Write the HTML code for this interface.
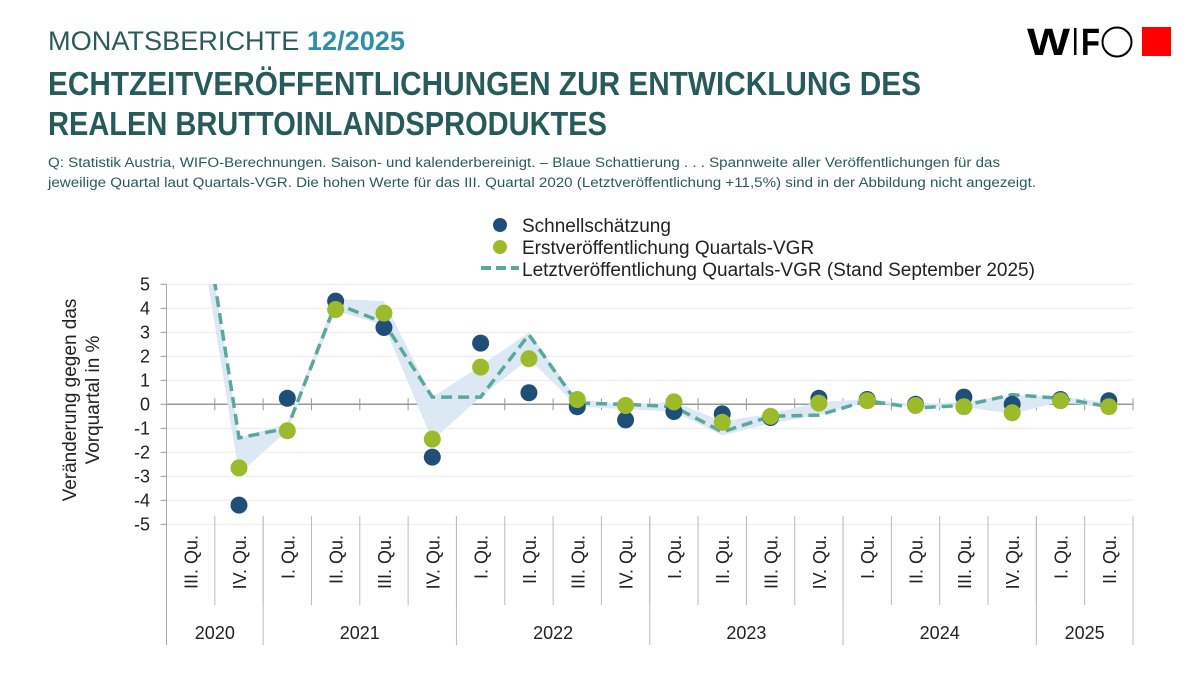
<!DOCTYPE html>
<html><head><meta charset="utf-8"><style>
body{margin:0;background:#fff;}
svg{display:block;font-family:"Liberation Sans",sans-serif;}
</style></head><body>
<svg id="chart" width="1200" height="675" viewBox="0 0 1200 675">
<text x="48" y="50" font-size="27" fill="#2a5a5a" textLength="357" lengthAdjust="spacingAndGlyphs">MONATSBERICHTE <tspan fill="#2e8fa8" font-weight="bold">12/2025</tspan></text>
<text x="48" y="95" font-size="33" font-weight="bold" fill="#275b5b" textLength="873" lengthAdjust="spacingAndGlyphs">ECHTZEITVERÖFFENTLICHUNGEN ZUR ENTWICKLUNG DES</text>
<text x="48" y="135" font-size="33" font-weight="bold" fill="#275b5b" textLength="559" lengthAdjust="spacingAndGlyphs">REALEN BRUTTOINLANDSPRODUKTES</text>
<text x="48" y="167" font-size="13.5" fill="#2a5a5a" textLength="952" lengthAdjust="spacingAndGlyphs">Q: Statistik Austria, WIFO-Berechnungen. Saison- und kalenderbereinigt. – Blaue Schattierung . . . Spannweite aller Veröffentlichungen für das</text>
<text x="48" y="187" font-size="13.5" fill="#2a5a5a" textLength="988" lengthAdjust="spacingAndGlyphs">jeweilige Quartal laut Quartals-VGR. Die hohen Werte für das III. Quartal 2020 (Letztveröffentlichung +11,5%) sind in der Abbildung nicht angezeigt.</text>
<g>
<text x="1027" y="55" font-size="38" font-weight="bold" fill="#000" textLength="43" lengthAdjust="spacingAndGlyphs">W</text>
<rect x="1074" y="28" width="2.5" height="27" fill="#000"/>
<text x="1081" y="55" font-size="38" font-weight="bold" fill="#000" textLength="19" lengthAdjust="spacingAndGlyphs">F</text>
<circle cx="1117" cy="42" r="14.5" fill="none" stroke="#000" stroke-width="2"/>
<rect x="1142" y="27" width="29" height="29" fill="#f00"/>
</g>
<g>
<circle cx="500" cy="225" r="7" fill="#1f4e79"/>
<text x="522" y="232" font-size="19" fill="#222">Schnellschätzung</text>
<circle cx="500" cy="247" r="7" fill="#9bbb2a"/>
<text x="522" y="254" font-size="19" fill="#222">Erstveröffentlichung Quartals-VGR</text>
<line x1="481" y1="268" x2="519" y2="268" stroke="#5aa89a" stroke-width="4" stroke-dasharray="10,5"/>
<text x="522" y="276" font-size="19" fill="#222">Letztveröffentlichung Quartals-VGR (Stand September 2025)</text>
</g>
<g transform="translate(80,400) rotate(-90)">
<text x="0" y="-4" font-size="19" fill="#222" text-anchor="middle">Veränderung gegen das</text>
<text x="0" y="19" font-size="19" fill="#222" text-anchor="middle">Vorquartal in %</text>
</g>
<g id="plot"></g>
</svg>
<script>
const categories=["III. Qu.","IV. Qu.","I. Qu.","II. Qu.","III. Qu.","IV. Qu.","I. Qu.","II. Qu.","III. Qu.","IV. Qu.","I. Qu.","II. Qu.","III. Qu.","IV. Qu.","I. Qu.","II. Qu.","III. Qu.","IV. Qu.","I. Qu.","II. Qu."];
const years=["2020","2021","2022","2023","2024","2025"];
const yearCounts=[2,4,4,4,4,2];
const schnell=[null,-4.2,0.25,4.3,3.2,-2.2,2.55,0.48,-0.1,-0.65,-0.3,-0.4,-0.55,0.25,0.2,0,0.3,0,0.2,0.15];
const erst=[null,-2.65,-1.1,3.95,3.8,-1.45,1.55,1.9,0.2,-0.05,0.1,-0.75,-0.5,0.05,0.15,-0.05,-0.1,-0.35,0.15,-0.1];
const letzt=[11.5,-1.4,-1.0,4.2,3.4,0.3,0.3,2.9,0.05,0,-0.1,-1.15,-0.5,-0.45,0.15,-0.15,-0.05,0.4,0.25,-0.1];
const bandMin=[9.5,-2.9,-1.1,3.9,3.3,-1.5,0.3,1.9,-0.1,-0.2,-0.3,-1.3,-0.8,-0.45,0.1,-0.15,-0.1,-0.4,0.1,-0.15];
const bandMax=[11.5,-1.4,-0.8,4.4,4.3,0.3,1.6,3.0,0.2,0,0.1,-0.7,-0.4,0.1,0.2,0,0.1,0.4,0.3,0.1];
const yTicks=[5,4,3,2,1,0,-1,-2,-3,-4,-5];
const yTickLabels=["5","4","3","2","1","0","-1","-2","-3","-4","-5"];

const NS="http://www.w3.org/2000/svg";
const L=166.5,R=1133,T=284,B=524;
const cw=(R-L)/categories.length;
const x=i=>L+cw*(i+0.5);
const y=v=>404.3-v*24;
const g=document.getElementById('plot');
function mk(t,a){const e=document.createElementNS(NS,t);for(const k in a)e.setAttribute(k,a[k]);g.appendChild(e);return e;}

const defs=mk('defs',{});
const cp=document.createElementNS(NS,'clipPath');cp.setAttribute('id','clip');
const cr=document.createElementNS(NS,'rect');cr.setAttribute('x',L);cr.setAttribute('y',T);cr.setAttribute('width',R-L);cr.setAttribute('height',B-T);
cp.appendChild(cr);defs.appendChild(cp);

yTicks.forEach((v,i)=>{
  const gl=mk('line',{x1:L,x2:R,y1:y(v),y2:y(v),stroke:v===0?'#999':'#ececec','stroke-width':v===0?1.5:1});
  
  
  mk('line',{x1:L-6,x2:L,y1:y(v),y2:y(v),stroke:'#999'});
  const t=mk('text',{x:150,y:y(v)+6,'font-size':18,'text-anchor':'end',fill:'#222'});
  t.textContent=yTickLabels[i];
  
  
});
const ax=mk('line',{x1:L,x2:L,y1:T,y2:645,stroke:'#aaa'});


for(let i=1;i<=categories.length;i++){
  const xx=L+cw*i;
  mk('line',{x1:xx,x2:xx,y1:y(0)-6,y2:y(0)+6,stroke:'#999'});
  mk('line',{x1:xx,x2:xx,y1:516,y2:605,stroke:'#bbb'});
}
let c=0;
years.forEach((yr,i)=>{
  const x0=L+cw*c;c+=yearCounts[i];const x1=L+cw*c;
  mk('line',{x1:x1,x2:x1,y1:516,y2:645,stroke:'#bbb'});
  const t=mk('text',{x:(x0+x1)/2,y:639,'font-size':18,'text-anchor':'middle',fill:'#222'});
  t.textContent=yr;
  
  
});
categories.forEach((cat,i)=>{
  const t=mk('text',{transform:`translate(${x(i)+7},535) rotate(-90)`,'font-size':18,'text-anchor':'end',fill:'#222'});
  t.textContent=cat;
  
  
});
let pts=bandMax.map((v,i)=>x(i)+','+y(v)).concat(bandMin.map((v,i)=>x(i)+','+y(v)).reverse());
const band=mk('polygon',{points:pts.join(' '),fill:'#dce9f5','clip-path':'url(#clip)'});


const ln=mk('polyline',{points:letzt.map((v,i)=>x(i)+','+y(v)).join(' '),fill:'none',stroke:'#5aa89a','stroke-width':3.5,'stroke-dasharray':'11,6','clip-path':'url(#clip)'});


schnell.forEach((v,i)=>{if(v===null)return;
  const p=mk('circle',{cx:x(i),cy:y(v),r:8.5,fill:'#1f4e79'});
  
  
});
erst.forEach((v,i)=>{if(v===null)return;
  const p=mk('circle',{cx:x(i),cy:y(v),r:8.5,fill:'#9bbb2a'});
  
  
});
</script>
</body></html>
